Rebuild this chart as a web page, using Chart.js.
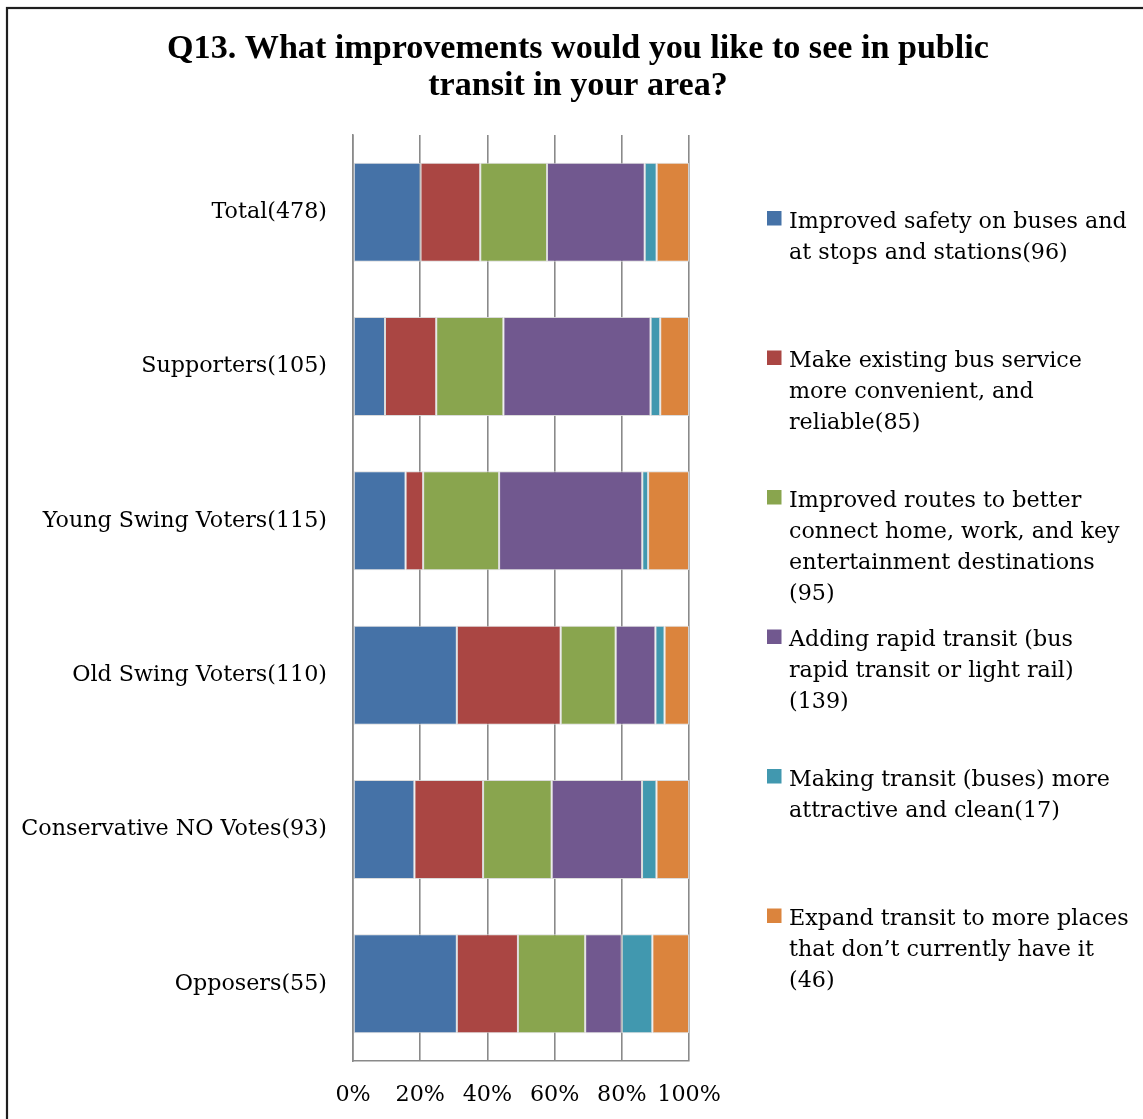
<!DOCTYPE html>
<html><head><meta charset="utf-8">
<script src="https://cdn.jsdelivr.net/npm/chart.js@4/dist/chart.umd.min.js"></script>
<style>html,body{margin:0;padding:0;background:#fff;overflow:hidden}
#wrap{position:relative;width:1143px;height:1119px}
canvas{display:block}</style></head>
<body><div id="wrap"><canvas id="c" width="1143" height="1119"></canvas></div>
<script>
const titleLines = ['Q13. What improvements would you like to see in public', 'transit in your area?'];
const categories = ['Total(478)', 'Supporters(105)', 'Young Swing Voters(115)', 'Old Swing Voters(110)', 'Conservative NO Votes(93)', 'Opposers(55)'];
const seriesNames = [
  ['Improved safety on buses and', 'at stops and stations(96)'],
  ['Make existing bus service', 'more convenient, and', 'reliable(85)'],
  ['Improved routes to better', 'connect home, work, and key', 'entertainment destinations', '(95)'],
  ['Adding rapid transit (bus', 'rapid transit or light rail)', '(139)'],
  ['Making transit (buses) more', 'attractive and clean(17)'],
  ['Expand transit to more places', 'that don\u2019t currently have it', '(46)']
];
// responses per category (same order as categories)
const safety     = [96, 10, 18, 34, 17, 17];
const convenient = [85, 16,  6, 34, 19, 10];
const routes     = [95, 21, 26, 18, 19, 11];
const rapid      = [139, 46, 49, 13, 25, 6];
const clean      = [17,  3,  2,  3,  4,  5];
const expand     = [46,  9, 14,  8,  9,  6];
const tickValues = [0, 20, 40, 60, 80, 100];

const seriesCounts = [safety, convenient, routes, rapid, clean, expand];
const colors = ['#4572A7', '#AA4643', '#89A54E', '#71588F', '#4198AF', '#DB843D'];
const categoryTotals = categories.map((_, i) => seriesCounts.reduce((s, arr) => s + arr[i], 0));

const FAMILY = '"DejaVu Serif", "Liberation Serif", serif';
const TITLE_FAMILY = '"Liberation Serif", "DejaVu Serif", serif';
function fitSize(text, weight, family, target) {
  const c = document.createElement('canvas').getContext('2d');
  c.font = weight + ' 100px ' + family;
  return 100 * target / c.measureText(text).width;
}
const bodySize = fitSize('Improved safety on buses and', 'normal', FAMILY, 338);
const titleSize = fitSize(titleLines[0], 'bold', TITLE_FAMILY, 822);

const decor = {
  id: 'decor',
  afterDraw(chart) {
    const ctx = chart.ctx;
    ctx.save();
    // outer frame
    ctx.strokeStyle = '#1f1f1f';
    ctx.lineWidth = 2.2;
    ctx.strokeRect(7, 8, 1200, 1200);
    // title
    ctx.fillStyle = '#000';
    ctx.textAlign = 'center';
    ctx.textBaseline = 'alphabetic';
    ctx.font = 'bold ' + titleSize + 'px ' + TITLE_FAMILY;
    titleLines.forEach((t, i) => ctx.fillText(t, 578, 58 + i * 37));
    // legend
    ctx.textAlign = 'left';
    ctx.font = bodySize + 'px ' + FAMILY;
    chart.data.datasets.forEach((ds, i) => {
      const base = 227.5 + i * 139.5;
      ctx.fillStyle = ds.backgroundColor;
      ctx.fillRect(767, base - 16.5, 14.5, 14.5);
      ctx.fillStyle = '#000';
      ds.labelLines.forEach((line, j) => ctx.fillText(line, 789, base + j * 31));
    });
    ctx.restore();
  }
};

new Chart(document.getElementById('c'), {
  type: 'bar',
  data: {
    labels: categories,
    datasets: seriesNames.map((lines, k) => ({
      label: lines.join(' '),
      labelLines: lines,
      data: seriesCounts[k].map((v, i) => v / categoryTotals[i] * 100),
      backgroundColor: colors[k],
      borderColor: 'rgba(215,215,215,0.9)',
      borderWidth: 1,
      borderSkipped: false,
      categoryPercentage: 1,
      barPercentage: 0.642
    }))
  },
  options: {
    indexAxis: 'y',
    responsive: false,
    animation: false,
    devicePixelRatio: 1,
    layout: { padding: { top: 135, right: 454, bottom: 0, left: 0 } },
    plugins: { legend: { display: false }, title: { display: false }, tooltip: { enabled: false } },
    scales: {
      x: {
        stacked: true, min: 0, max: 100,
        afterBuildTicks: (s) => { s.ticks = tickValues.map(v => ({ value: v })); },
        afterFit: (s) => { s.height = 58; },
        grid: { color: '#8a8a8a', lineWidth: 1.6, drawTicks: false },
        border: { display: true, color: '#8a8a8a', width: 1.6 },
        ticks: {
          autoSkip: false, maxRotation: 0, minRotation: 0, padding: 21,
          color: '#000', font: { family: FAMILY, size: bodySize },
          callback: (v) => v + '%'
        }
      },
      y: {
        stacked: true,
        afterFit: (s) => { s.width = 353; },
        grid: { display: false, drawTicks: false },
        border: { display: true, color: '#8a8a8a', width: 1.6 },
        ticks: { padding: 26, color: '#000', font: { family: FAMILY, size: bodySize } }
      }
    }
  },
  plugins: [decor]
});
</script>
</body></html>
